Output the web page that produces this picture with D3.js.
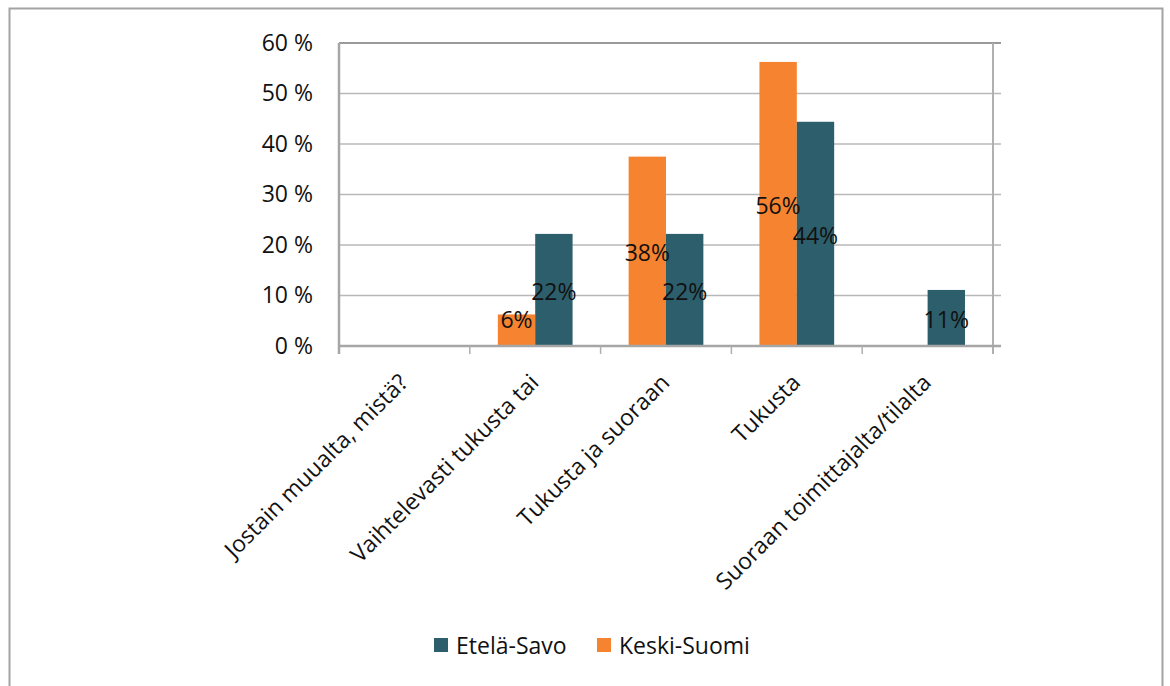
<!DOCTYPE html>
<html>
  <head>
    <meta charset="UTF-8" />
    <script src="https://d3js.org/d3.v7.min.js"></script>
    <style>
      body { margin: 0; background: #fff; }
      text { font-family: "Open Sans", "Noto Sans", sans-serif; fill: #111; }
    </style>
  </head>
  <body>
    <div id="chart"></div>
    <script>
      // data (share of answers, %)
      var categories = [
        "Jostain muualta, mistä?",
        "Vaihtelevasti tukusta tai",
        "Tukusta ja suoraan",
        "Tukusta",
        "Suoraan toimittajalta/tilalta"
      ];
      var seriesNames = ["Keski-Suomi", "Etelä-Savo"];
      var keskiSuomi = [0, 6.25, 37.5, 56.25, 0];
      var etelaSavo = [0, 22.2, 22.2, 44.4, 11.1];
      var seriesColors = ["#f68330", "#2d5e6c"];
      var legendOrder = ["Etelä-Savo", "Keski-Suomi"];
      var yTicks = [0, 10, 20, 30, 40, 50, 60];

      var width = 1170, height = 686;
      var plotLeft = 339, plotRight = 993, plotTop = 43, plotBottom = 346;

      var svg = d3.select("#chart").append("svg")
        .attr("width", width)
        .attr("height", height);

      // outer frame
      svg.append("rect")
        .attr("x", 9.5).attr("y", 8.5)
        .attr("width", 1153).attr("height", 720)
        .attr("fill", "none")
        .attr("stroke", "#a3a3a3")
        .attr("stroke-width", 2);

      var x0 = d3.scaleBand().domain(categories).range([plotLeft, plotRight]).padding(0);
      var bw = x0.bandwidth() / 3.5;
      var x1 = d3.scaleBand().domain(seriesNames).range([0.75 * bw, 2.75 * bw]).padding(0);
      var y = d3.scaleLinear().domain([0, 60]).range([plotBottom, plotTop]);
      var color = d3.scaleOrdinal().domain(seriesNames).range(seriesColors);

      // gridlines + right ticks
      svg.append("g").selectAll("line")
        .data(yTicks.filter(d => d > 0 && d < 60))
        .join("line")
        .attr("x1", plotLeft).attr("x2", plotRight + 8)
        .attr("y1", d => y(d)).attr("y2", d => y(d))
        .attr("stroke", "#b8b8b8")
        .attr("stroke-width", 1.5);

      // top border of plot
      svg.append("line")
        .attr("x1", plotLeft).attr("x2", plotRight + 8)
        .attr("y1", y(60)).attr("y2", y(60))
        .attr("stroke", "#9a9a9a").attr("stroke-width", 2);

      // right axis
      svg.append("line")
        .attr("x1", plotRight).attr("x2", plotRight)
        .attr("y1", plotTop).attr("y2", plotBottom + 8)
        .attr("stroke", "#b0b0b0").attr("stroke-width", 2);

      // y axis labels
      var yAxis = svg.append("g")
        .attr("transform", "translate(" + plotLeft + ",0)")
        .call(d3.axisLeft(y).tickValues(yTicks).tickSize(0).tickPadding(26).tickFormat(d => d + " %"));
      yAxis.select(".domain").remove();
      yAxis.selectAll("text")
        .style("font-family", "'Open Sans', sans-serif")
        .style("font-size", "23px")
        .attr("fill", "#111");

      // bars
      var rows = categories.map((c, i) => ({ cat: c, vals: [keskiSuomi[i], etelaSavo[i]] }));
      var groups = svg.append("g").selectAll("g")
        .data(rows)
        .join("g")
        .attr("transform", d => "translate(" + x0(d.cat) + ",0)");

      groups.selectAll("rect")
        .data(d => d.vals.map((v, j) => ({ name: seriesNames[j], v: v })))
        .join("rect")
        .attr("x", d => x1(d.name))
        .attr("width", x1.bandwidth())
        .attr("y", d => y(d.v))
        .attr("height", d => y(0) - y(d.v))
        .attr("fill", d => color(d.name));

      // labels centred in the bar, but kept clear of the axis
      groups.selectAll("text")
        .data(d => d.vals.map((v, j) => ({ name: seriesNames[j], v: v })).filter(d => d.v > 0))
        .join("text")
        .attr("x", d => x1(d.name) + x1.bandwidth() / 2)
        .attr("y", d => Math.min((y(d.v) + y(0)) / 2, plotBottom - 28) + 10)
        .attr("text-anchor", "middle")
        .style("font-size", "23px")
        .text(d => Math.round(d.v) + "%");

      // left and bottom axis lines
      svg.append("line")
        .attr("x1", plotLeft).attr("x2", plotLeft)
        .attr("y1", plotTop).attr("y2", plotBottom + 8)
        .attr("stroke", "#a6a6a6").attr("stroke-width", 2.5);
      svg.append("line")
        .attr("x1", plotLeft).attr("x2", plotRight + 8)
        .attr("y1", plotBottom).attr("y2", plotBottom)
        .attr("stroke", "#a6a6a6").attr("stroke-width", 2.5);

      // category ticks
      var bounds = categories.map(c => x0(c)).concat([plotRight]);
      svg.append("g").selectAll("line")
        .data(bounds.slice(1, -1))
        .join("line")
        .attr("x1", d => d).attr("x2", d => d)
        .attr("y1", plotBottom).attr("y2", plotBottom + 8)
        .attr("stroke", "#b0b0b0").attr("stroke-width", 1.5);

      // rotated category labels
      svg.append("g").selectAll("text")
        .data(categories)
        .join("text")
        .attr("text-anchor", "end")
        .attr("transform", d => "translate(" + (x0(d) + x0.bandwidth() / 2 + 5) + ",384) rotate(-45)")
        .style("font-size", "23px")
        .text(d => d);

      // legend
      var legend = svg.append("g").selectAll("g")
        .data(legendOrder)
        .join("g")
        .attr("transform", (d, i) => "translate(" + (i === 0 ? 434 : 597) + ",638)");
      legend.append("rect")
        .attr("width", 14).attr("height", 14)
        .attr("fill", d => color(d));
      legend.append("text")
        .attr("x", 22).attr("y", 16)
        .style("font-size", "23px")
        .text(d => d);
    </script>
  </body>
</html>
